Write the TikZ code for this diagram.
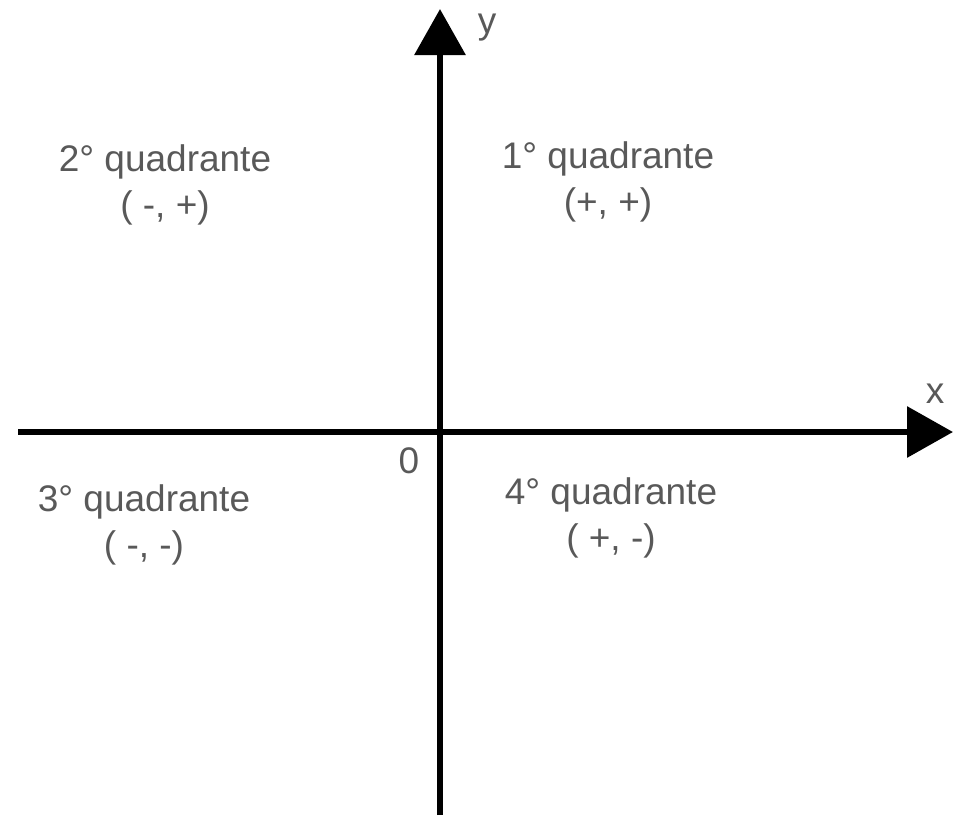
\documentclass[tikz,border=0pt]{standalone}
\usepackage{fontspec}
\setmainfont{Liberation Sans}
\usetikzlibrary{arrows.meta}
\tikzset{
    axis/.style={line width=3.2pt, -{Triangle[length=23pt,width=25pt]}},
    quadlabel/.style={
        align=center,
        text=black!65,
        font=\fontsize{18.5}{23}\selectfont
    },
    axislabel/.style={text=black!65, font=\fontsize{18.5}{22}\selectfont}
}
\begin{document}
\begin{tikzpicture}[x=0.5pt,y=-0.5pt]
        \useasboundingbox (0,0) rectangle (953,821);
        % axes
        \coordinate (xstart) at (18,432);
        \coordinate (xend) at (953,432);
        \coordinate (ystart) at (440,815);
        \coordinate (yend) at (440,9);
        \draw[axis] (xstart) -- (xend);
        \draw[axis] (ystart) -- (yend);
        \node[axislabel] (xlabel) at (935,394) {x};
        \node[axislabel] (ylabel) at (487,28) {y};
        \node[axislabel] (origin) at (409,461) {0};
        % quadrants
        \node[quadlabel] (q1) at (608,182) {1° quadrante\\(+, +)};
        \node[quadlabel] (q2) at (165,185) {2° quadrante\\( -, +)};
        \node[quadlabel] (q3) at (144,525) {3° quadrante\\( -, -)};
        \node[quadlabel] (q4) at (611,518) {4° quadrante\\( +, -)};
    \end{tikzpicture}
\end{document}
